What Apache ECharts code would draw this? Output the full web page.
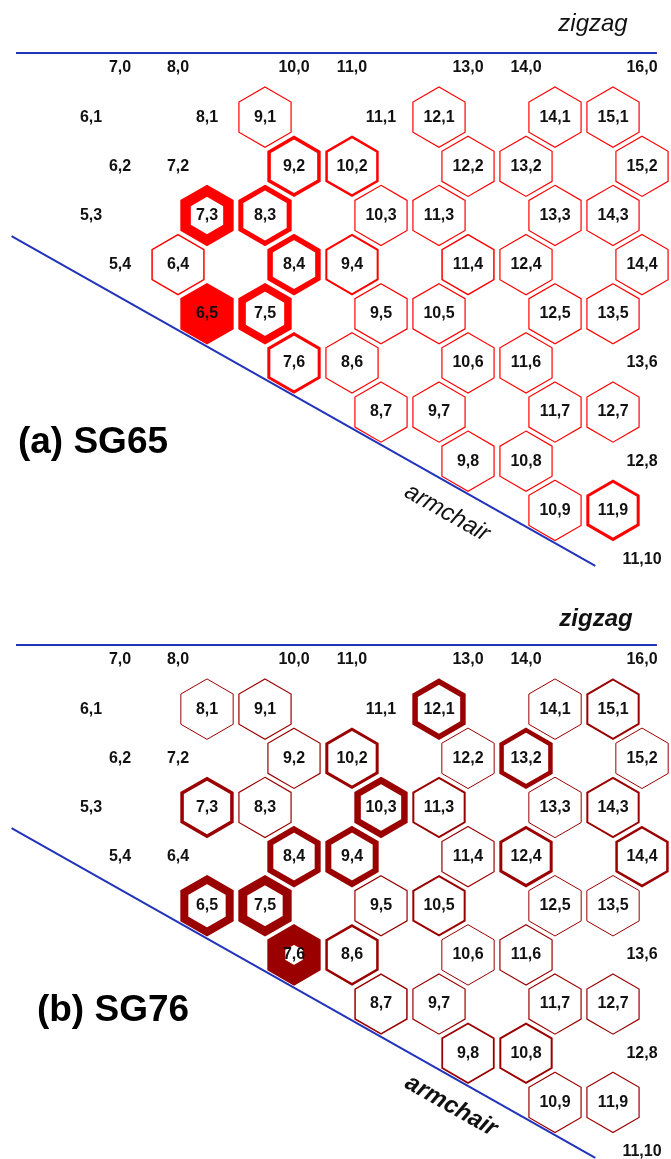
<!DOCTYPE html>
<html>
<head>
<meta charset="utf-8">
<script src="https://cdn.jsdelivr.net/npm/echarts@6/dist/echarts.min.js"></script>
<style>
html,body{margin:0;padding:0;background:#fff;}
#chart{width:671px;height:1159px;}
</style>
</head>
<body>
<div id="chart"></div>
<script>
// (n,m) chirality labels shown on the map
const chirality = [
  "7,0","8,0","10,0","11,0","13,0","14,0","16,0",
  "6,1","8,1","9,1","11,1","12,1","14,1","15,1",
  "6,2","7,2","9,2","10,2","12,2","13,2","15,2",
  "5,3","7,3","8,3","10,3","11,3","13,3","14,3",
  "5,4","6,4","8,4","9,4","11,4","12,4","14,4",
  "6,5","7,5","9,5","10,5","12,5","13,5",
  "7,6","8,6","10,6","11,6","13,6",
  "8,7","9,7","11,7","12,7",
  "9,8","10,8","12,8",
  "10,9","11,9",
  "11,10"
];
// relative abundance per chirality (0 = not observed), shown as hexagon ring weight
const sg65 = [
  0,0,0,0,0,0,0,
  0,0,1.2,0,1.2,1.2,1.2,
  0,0,3.5,2.5,1.2,1.2,1.2,
  0,10.5,5,1.2,1.2,1.2,1.2,
  0,1.5,5.5,2,1.5,1.2,1.2,
  30,7.5,1.2,1.2,1.2,1.2,
  3,1.2,1.2,1.2,0,
  1.2,1.2,1.2,1.2,
  1.2,1.2,0,
  1.2,3,
  0
];
const sg76 = [
  0,0,0,0,0,0,0,
  0,1,1.2,0,5.5,1,2,
  0,0,1.2,3,1,4.5,1,
  0,3.5,1.2,6.5,2,1,2,
  0,0,6,6,1.2,3,2.5,
  8,9,1.2,2,1,1,
  18,2.5,1,1.2,0,
  1.5,1.2,1.2,1.2,
  1.8,2,0,
  1.2,1.2,
  0
];
const panelNames = ["(a) SG65", "(b) SG76"];
// reference directions in (n,m) space
const zigzagLine = [[5.36, -0.305], [16.41, -0.305]];  // row just above the (n,0) tubes
const armchairLine = [[3.42, 3.42], [10.13, 10.13]];   // n = m

function toUV(p) { return [p[0] + p[1] / 2, p[1]]; }

const RED_A = '#ff0000';
const RED_B = '#9a0000';
const BLUE = '#2233bb';
const FONT = '"Liberation Sans", Arial, sans-serif';

function makeData(vals) {
  return chirality.map((s, i) => {
    const p = s.split(',').map(Number);
    return [p[0], p[1], vals[i], s];
  });
}

function hexRender(color) {
  return function (params, api) {
    const n = api.value(0), m = api.value(1), w = api.value(2);
    const label = chirality[params.dataIndex];
    const c = api.coord([n + m / 2, m]);
    const unit = api.size([1, 0])[0];
    const Rout = unit * 0.531;
    const cos30 = Math.cos(Math.PI / 6);
    const inr = Rout * cos30;
    const children = [];
    function pts(r) {
      const a = [];
      for (let k = 0; k < 6; k++) {
        const ang = (-90 + 60 * k) * Math.PI / 180;
        a.push([c[0] + r * Math.cos(ang), c[1] + r * Math.sin(ang)]);
      }
      return a;
    }
    if (w > 0) {
      if (w >= inr) {
        children.push({ type: 'polygon', shape: { points: pts(Rout) },
          style: { fill: color, stroke: null } });
      } else {
        const r = Rout - (w / 2) / cos30;
        children.push({ type: 'polygon', shape: { points: pts(r) },
          style: { fill: null, stroke: color, lineWidth: w, lineJoin: 'miter', miterLimit: 10 } });
      }
    }
    children.push({ type: 'text', x: c[0], y: c[1], z2: 10,
      style: { text: label, fill: '#111', font: 'bold 16px ' + FONT, align: 'center', verticalAlign: 'middle' } });
    return { type: 'group', children: children };
  };
}

const PX_X0 = 286, PX_DX = 58, PX_Y0 = 68, PX_DY = 49.15, GH = 567, W = 671;
const xMin = PX_X0 / PX_DX, xMax = (W + PX_X0) / PX_DX;
const yMin = -PX_Y0 / PX_DY, yMax = yMin + GH / PX_DY;

const tops = [0, 592];
const grids = tops.map(t => ({ left: 0, top: t, width: W, height: GH, containLabel: false }));
const xAxes = tops.map((t, i) => ({ type: 'value', gridIndex: i, min: xMin, max: xMax, show: false }));
const yAxes = tops.map((t, i) => ({ type: 'value', gridIndex: i, min: yMin, max: yMax, inverse: true, show: false }));

const series = [];
[sg65, sg76].forEach((vals, i) => {
  const color = i === 0 ? RED_A : RED_B;
  series.push({ type: 'line', xAxisIndex: i, yAxisIndex: i, data: zigzagLine.map(toUV), symbol: 'none',
    lineStyle: { color: BLUE, width: 2 }, silent: true, z: 1 });
  series.push({ type: 'line', xAxisIndex: i, yAxisIndex: i, data: armchairLine.map(toUV), symbol: 'none',
    lineStyle: { color: BLUE, width: 2 }, silent: true, z: 1 });
  series.push({ type: 'custom', xAxisIndex: i, yAxisIndex: i, data: makeData(vals),
    renderItem: hexRender(color), clip: false, z: 2 });
});

const rot = -Math.atan((2 / 3) * PX_DY / PX_DX);
const graphic = [
  { type: 'text', x: 593, y: 24, style: { text: 'zigzag', font: 'italic 24px ' + FONT, fill: '#111', align: 'center', verticalAlign: 'middle' } },
  { type: 'text', x: 447, y: 513, rotation: rot, style: { text: 'armchair', font: 'italic 24px ' + FONT, fill: '#111', align: 'center', verticalAlign: 'middle' } },
  { type: 'text', x: 93, y: 443, style: { text: panelNames[0], font: 'bold 37px ' + FONT, fill: '#000', align: 'center', verticalAlign: 'middle' } },
  { type: 'text', x: 596, y: 592 + 27, style: { text: 'zigzag', font: 'italic bold 24px ' + FONT, fill: '#111', align: 'center', verticalAlign: 'middle' } },
  { type: 'text', x: 451, y: 592 + 514, rotation: rot, style: { text: 'armchair', font: 'italic bold 24px ' + FONT, fill: '#111', align: 'center', verticalAlign: 'middle' } },
  { type: 'text', x: 113, y: 1011, style: { text: panelNames[1], font: 'bold 37px ' + FONT, fill: '#000', align: 'center', verticalAlign: 'middle' } }
];

const chart = echarts.init(document.getElementById('chart'), null, { renderer: 'canvas' });
chart.setOption({
  animation: false,
  backgroundColor: '#fff',
  grid: grids, xAxis: xAxes, yAxis: yAxes,
  series: series,
  graphic: graphic
});
</script>
</body>
</html>
